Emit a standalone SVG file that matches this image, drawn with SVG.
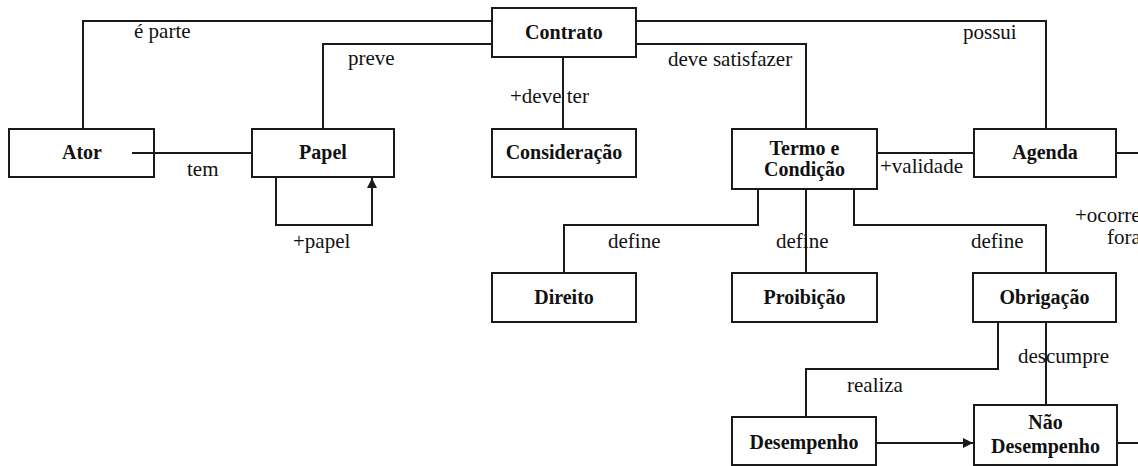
<svg xmlns="http://www.w3.org/2000/svg" width="1138" height="466" viewBox="0 0 1138 466">
  <style>
    .box { fill: #fff; stroke: #1a1a1a; stroke-width: 2; }
    .node text { font-family: 'Liberation Serif', 'DejaVu Serif', serif; font-size: 20px; font-weight: bold; fill: #111; text-anchor: middle; }
    .edge { fill: none; stroke: #1a1a1a; stroke-width: 2; }
    .lbl { font-family: 'Liberation Serif', 'DejaVu Serif', serif; font-size: 21px; fill: #111; }
  </style>
  <defs>
    <marker id="tri" viewBox="0 0 10 10" refX="10" refY="5" markerWidth="10" markerHeight="10" markerUnits="userSpaceOnUse" orient="auto">
      <path d="M0,0 L10,5 L0,10 Z" fill="#1a1a1a"/>
    </marker>
  </defs>
  <rect width="1138" height="466" fill="#fff"/>

  <g id="contrato" class="node"><rect class="box" x="492" y="8" width="144" height="49"/><text x="564" y="39">Contrato</text></g>
  <g id="ator" class="node"><rect class="box" x="9" y="129" width="145" height="48"/><text x="82" y="159">Ator</text></g>
  <g id="papel" class="node"><rect class="box" x="252" y="129" width="142" height="48"/><text x="323" y="159">Papel</text></g>
  <g id="consideracao" class="node"><rect class="box" x="492" y="129" width="144" height="48"/><text x="564" y="159">Consideração</text></g>
  <g id="termo" class="node"><rect class="box" x="732" y="129" width="145" height="60"/><text x="804.5" y="155">Termo e</text><text x="804.5" y="176">Condição</text></g>
  <g id="agenda" class="node"><rect class="box" x="974" y="129" width="142" height="48"/><text x="1045" y="159">Agenda</text></g>
  <g id="direito" class="node"><rect class="box" x="492" y="273" width="144" height="49"/><text x="564" y="304">Direito</text></g>
  <g id="proibicao" class="node"><rect class="box" x="732" y="273" width="145" height="49"/><text x="804.5" y="304">Proibição</text></g>
  <g id="obrigacao" class="node"><rect class="box" x="973" y="273" width="143" height="49"/><text x="1044.5" y="304">Obrigação</text></g>
  <g id="desempenho" class="node"><rect class="box" x="732" y="417" width="144" height="48"/><text x="804" y="449">Desempenho</text></g>
  <g id="nao-desempenho" class="node"><rect class="box" x="974" y="405" width="143" height="60"/><text x="1045.5" y="429">Não</text><text x="1045.5" y="453">Desempenho</text></g>

  <g id="connectors">
    <path class="edge" d="M83,129 V21 H492"/>
    <path class="edge" d="M323,129 V44 H492"/>
    <path class="edge" d="M132,153 H252"/>
    <path class="edge" d="M276,177 V225 H372 V178" marker-end="url(#tri)"/>
    <path class="edge" d="M563,57 V129"/>
    <path class="edge" d="M636,44 H806 V129"/>
    <path class="edge" d="M636,21 H1046 V129"/>
    <path class="edge" d="M877,153 H974"/>
    <path class="edge" d="M1116,153 H1138"/>
    <path class="edge" d="M758,189 V225 H564 V273"/>
    <path class="edge" d="M806,189 V273"/>
    <path class="edge" d="M854,189 V225 H1046 V273"/>
    <path class="edge" d="M998,322 V369 H806 V417"/>
    <path class="edge" d="M1046,322 V405"/>
    <path class="edge" d="M876,443 H973" marker-end="url(#tri)"/>
    <path class="edge" d="M1117,443 H1138"/>

    <text class="lbl" x="134" y="38">é parte</text>
    <text class="lbl" x="348" y="65">preve</text>
    <text class="lbl" x="187" y="176">tem</text>
    <text class="lbl" x="293" y="248">+papel</text>
    <text class="lbl" x="510" y="103">+deve ter</text>
    <text class="lbl" x="668" y="66">deve satisfazer</text>
    <text class="lbl" x="963" y="39">possui</text>
    <text class="lbl" x="880" y="173">+validade</text>
    <text class="lbl" x="1075" y="222">+ocorre</text>
    <text class="lbl" x="1107" y="244">fora</text>
    <text class="lbl" x="608" y="248">define</text>
    <text class="lbl" x="776" y="248">define</text>
    <text class="lbl" x="971" y="248">define</text>
    <text class="lbl" x="1018" y="363">descumpre</text>
    <text class="lbl" x="847" y="392">realiza</text>
  </g>
</svg>
